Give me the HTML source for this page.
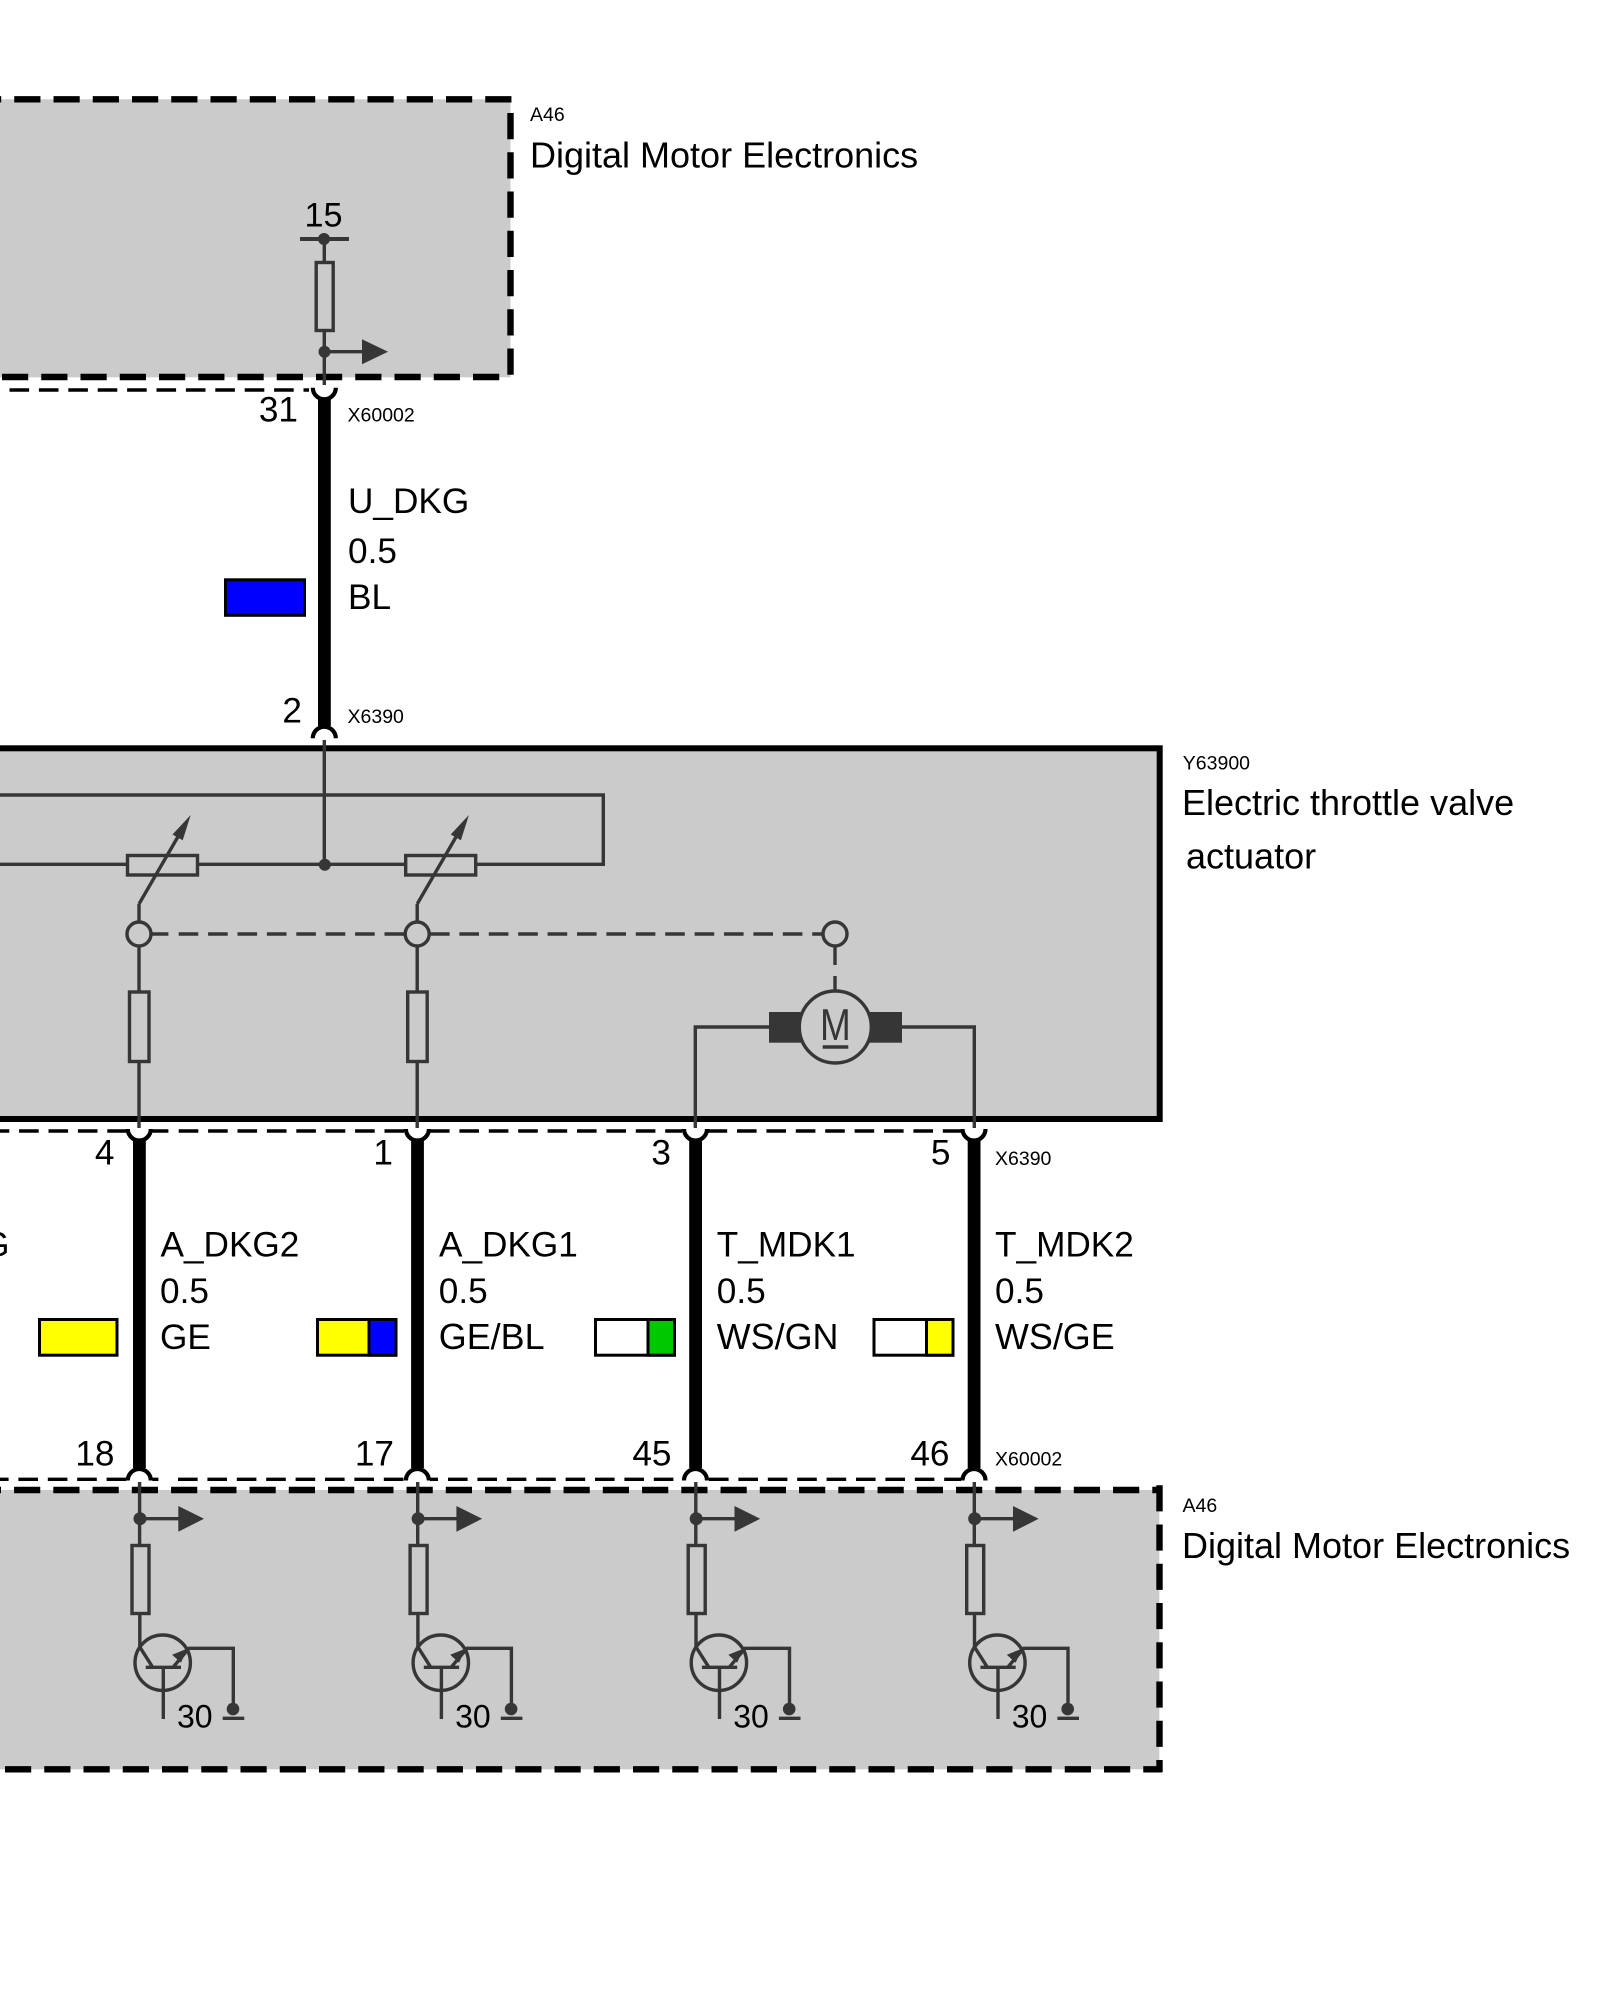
<!DOCTYPE html>
<html><head><meta charset="utf-8"><style>
html,body{margin:0;padding:0;background:#fff}
svg{display:block}
text{font-family:"Liberation Sans",sans-serif;fill:#000}
.b{font-size:36px}.p{font-size:35.2px}.q{font-size:35.9px}.s{font-size:19.5px}.n{font-size:32px}
.t{stroke:#363636;stroke-width:3.4;fill:none}
.g{stroke:#363636;stroke-width:3.4;fill:#cbcbcb}
.d{stroke:#000;stroke-width:3.4;fill:none;stroke-dasharray:19.6 9.8}
.k{stroke:#000;stroke-width:6.4;fill:none;stroke-dasharray:26.2 13.05}
.a{stroke:#000;stroke-width:4.2;fill:none}
.f{fill:#363636}
.c{stroke:#000;stroke-width:3}
</style></head><body>
<svg width="1600" height="2000" viewBox="0 0 1600 2000" xmlns="http://www.w3.org/2000/svg">
<defs>
<g id="low">
<line x1="139.6" y1="1482" x2="139.6" y2="1545" class="t"/>
<circle cx="140" cy="1518.7" r="6.5" class="f"/>
<line x1="140" y1="1518.7" x2="179" y2="1518.7" class="t"/>
<polygon points="178.3,1506 204,1518.8 178.3,1531.7" class="f"/>
<rect x="132" y="1545.5" width="17" height="68" class="g"/>
<path d="M139.8 1613.5V1647L152.7 1667.3" class="t"/>
<circle cx="162.7" cy="1662.7" r="27.7" class="t"/>
<path d="M145.7 1667.3H181M163.3 1667.3V1719M173 1667.3L189 1648.3H233.3V1709" class="t"/>
<polygon points="186,1650 173.5,1655 180.7,1661.5" class="f" stroke="#363636" stroke-width="1.5"/>
<circle cx="233" cy="1709" r="6.3" class="f"/>
<line x1="222.7" y1="1718.3" x2="244.3" y2="1718.3" class="t"/>
</g>
<g id="conn">
<path d="M127.8 1129A11.5 11.5 0 0 0 150.8 1129" class="a"/>
<rect x="133" y="1140" width="12.8" height="328" fill="#000"/>
<path d="M127.8 1480.5A11.5 11.5 0 0 1 150.8 1480.5" class="a"/>
</g>
<g id="pot">
<line x1="139" y1="904" x2="139" y2="922" class="t"/>
<rect x="127.5" y="855.5" width="70" height="19.5" class="g"/>
<path d="M139 904L183 828" class="t"/>
<polygon points="190.7,815 172.5,834.5 182.7,840.3" class="f"/>
<circle cx="139" cy="934" r="12" class="g"/>
<rect x="129.5" y="992" width="19.5" height="69.5" class="g"/>
<path d="M139 946V992M139 1061.5V1128" class="t"/>
</g>
</defs>

<!-- top box -->
<rect x="-10" y="99.3" width="520.5" height="278" fill="#cbcbcb"/>
<line x1="-25" y1="99.3" x2="513" y2="99.3" class="k"/>
<line x1="2" y1="377" x2="500" y2="377" class="k"/>
<line x1="510.5" y1="113" x2="510.5" y2="376" class="k"/>
<text x="304.5" y="226.5" style="font-size:34.2px">15</text>
<line x1="300" y1="239" x2="349" y2="239" stroke="#363636" stroke-width="4"/>
<circle cx="324" cy="239" r="6" class="f"/>
<path d="M324.3 239V262.5M324.3 330.5V385" class="t"/>
<rect x="316.2" y="262.5" width="17" height="68" class="g"/>
<circle cx="324.5" cy="351.7" r="6" class="f"/>
<line x1="324.5" y1="351.7" x2="363" y2="351.7" class="t"/>
<polygon points="362,339.3 388,351.8 362,364.3" class="f"/>
<text x="530" y="121" class="s">A46</text>
<text x="530" y="167.5" class="b">Digital Motor Electronics</text>

<!-- top thin dashed -->
<path d="M9.5 390H309" class="d"/>
<path d="M312.8 387.7A11.5 11.5 0 0 0 335.8 387.7" class="a"/>
<rect x="318" y="398" width="12.8" height="328" fill="#000"/>
<path d="M312.8 738.3A11.5 11.5 0 0 1 335.8 738.3" class="a"/>

<text x="298" y="421.7" text-anchor="end" class="p">31</text>
<text x="347.5" y="421.7" class="s">X60002</text>
<text x="348" y="513" class="p">U_DKG</text>
<text x="348" y="563" class="p">0.5</text>
<text x="348" y="609" class="p">BL</text>
<rect x="225.5" y="579.8" width="79" height="35.5" fill="#0000ff" class="c"/>
<text x="302" y="722.7" text-anchor="end" class="p">2</text>
<text x="347.5" y="723" class="s">X6390</text>

<!-- actuator box -->
<rect x="-10" y="748.3" width="1169.7" height="370.7" fill="#cbcbcb" stroke="#000" stroke-width="6"/>
<path d="M324.3 740V864.3" class="t"/>
<path d="M0 795H603.3V864.3H0" class="t"/>
<circle cx="324.8" cy="864.8" r="6" class="f"/>
<use href="#pot"/>
<use href="#pot" x="278.2"/>
<path d="M151 934H168.4M178.7 934H405M430 934H823" class="t" stroke-dasharray="19.6 9.8"/>
<circle cx="835" cy="934" r="12" class="g"/>
<path d="M835 946V965M835 976V991" class="t"/>
<rect x="769" y="1012" width="40" height="30.7" class="f"/>
<rect x="862" y="1012" width="40" height="30.7" class="f"/>
<path d="M695.3 1128V1027H769M974.3 1128V1027H902" class="t"/>
<circle cx="835.3" cy="1027" r="36" class="g"/>
<text transform="translate(820 1040) scale(0.83 1)" style="font-size:44.5px;fill:#363636">M</text>
<line x1="822.7" y1="1047" x2="848.3" y2="1047" class="t"/>

<text x="1182.8" y="769.3" class="s">Y63900</text>
<text x="1182" y="815" class="b">Electric throttle valve</text>
<text x="1186" y="868.5" class="b">actuator</text>

<!-- mid dashed line -->
<path d="M-10.3 1131H126.7M152.4 1131H168.4M178.7 1131H404M430 1131H682M707.6 1131H961" class="d"/>
<use href="#conn"/>
<use href="#conn" x="278.1"/>
<use href="#conn" x="556.2"/>
<use href="#conn" x="834.7"/>
<path d="M-11 1479.3H126.7M152.4 1479.3H158.4M178 1479.3H404M430 1479.3H438M448 1479.3H682M709 1479.3H961" class="d"/>

<!-- pin numbers top -->
<text x="114.5" y="1164.5" text-anchor="end" class="p">4</text>
<text x="393" y="1164.5" text-anchor="end" class="p">1</text>
<text x="671" y="1164.5" text-anchor="end" class="p">3</text>
<text x="950.5" y="1164.5" text-anchor="end" class="p">5</text>
<text x="995" y="1165" class="s">X6390</text>

<text x="9.5" y="1256.7" text-anchor="end" class="p">G</text>
<text x="160.5" y="1256.7" class="p">A_DKG2</text>
<text x="160" y="1303" class="p">0.5</text>
<text x="160" y="1349" class="p">GE</text>
<text x="439" y="1256.7" class="p">A_DKG1</text>
<text x="438.8" y="1303" class="p">0.5</text>
<text x="438.8" y="1349" class="q">GE/BL</text>
<text x="716.8" y="1256.7" class="p">T_MDK1</text>
<text x="716.8" y="1303" class="p">0.5</text>
<text x="716.8" y="1349" class="q">WS/GN</text>
<text x="995" y="1256.7" class="p">T_MDK2</text>
<text x="995" y="1303" class="p">0.5</text>
<text x="995" y="1349" class="q">WS/GE</text>

<rect x="39.5" y="1319.5" width="77.5" height="35.7" fill="#ffff00" class="c"/>
<rect x="317.5" y="1319.5" width="78.5" height="35.7" fill="#ffff00" class="c"/>
<rect x="369" y="1319.5" width="27" height="35.7" fill="#0000ff" class="c"/>
<rect x="595.5" y="1319.5" width="79" height="35.7" fill="#fff" class="c"/>
<rect x="648" y="1319.5" width="26.5" height="35.7" fill="#00c800" class="c"/>
<rect x="874" y="1319.5" width="79" height="35.7" fill="#fff" class="c"/>
<rect x="926.5" y="1319.5" width="26.5" height="35.7" fill="#ffff00" class="c"/>

<text x="114.5" y="1465.5" text-anchor="end" class="p">18</text>
<text x="394" y="1465.5" text-anchor="end" class="p">17</text>
<text x="671.5" y="1465.5" text-anchor="end" class="p">45</text>
<text x="949.5" y="1465.5" text-anchor="end" class="p">46</text>
<text x="995" y="1465.6" class="s">X60002</text>

<!-- lower box -->
<rect x="-10" y="1490" width="1169.3" height="279.3" fill="#cbcbcb"/>
<line x1="-25.2" y1="1490" x2="1162" y2="1490" class="k"/>
<line x1="5" y1="1769.3" x2="1162" y2="1769.3" class="k"/>
<line x1="1159.5" y1="1485.2" x2="1159.5" y2="1772" class="k"/>
<use href="#low"/>
<use href="#low" x="278.1"/>
<use href="#low" x="556.2"/>
<use href="#low" x="834.7"/>
<text x="177" y="1727.3" class="n">30</text>
<text x="455.1" y="1727.3" class="n">30</text>
<text x="733.2" y="1727.3" class="n">30</text>
<text x="1011.7" y="1727.3" class="n">30</text>
<text x="1182.5" y="1512" class="s">A46</text>
<text x="1182" y="1558.2" class="b">Digital Motor Electronics</text>
</svg>
</body></html>
